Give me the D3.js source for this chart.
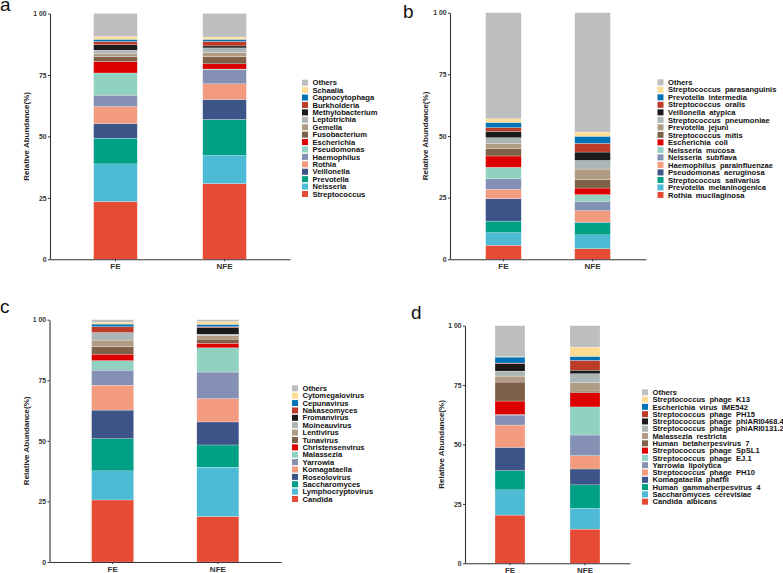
<!DOCTYPE html>
<html>
<head>
<meta charset="utf-8">
<script src="https://cdn.jsdelivr.net/npm/d3@7"></script>
<style>
  body { margin: 0; background: #fff; }
  svg text { font-family: "Liberation Sans", Arial, sans-serif; }
</style>
</head>
<body>
<div id="chart"></div>
<script>
// groups and y ticks shared by all four panels
const groups = ["FE", "NFE"];
const yTicks = [0, 25, 50, 75, 100];
const yTickLabels = ["0", "25", "50", "75", "1 00"];

// colours from the bottom of the stack up to "Others"
const colours = ["#E64B35", "#4DBBD5", "#00A087", "#3C5488", "#F39B7F", "#8491B4",
    "#91D1C2", "#DC0000", "#7E6148", "#B09C85", "#ADB6B6", "#1B1919",
    "#BC3C29", "#0072B5", "#FFDC91", "#BEBEBE"];

// panel a - bacteria genus
const catsA = ["Streptococcus", "Neisseria", "Prevotella", "Veillonella", "Rothia", "Haemophilus",
    "Pseudomonas", "Escherichia", "Fusobacterium", "Gemella", "Leptotrichia", "Methylobacterium",
    "Burkholderia", "Capnocytophaga", "Schaalia", "Others"];
const feA  = [23.5, 15.3, 10.5, 5.9, 6.9, 4.7, 9.0, 4.6, 2.1, 1.3, 1.3, 2.2, 1.3, 0.9, 1.1, 9.4];
const nfeA = [30.8, 11.4, 14.7, 8.1, 6.4, 5.7, 0.3, 2.1, 3.0, 1.6, 1.9, 0.8, 1.9, 0.8, 0.9, 9.6];

// panel b - bacteria species
const catsB = ["Rothia  mucilaginosa", "Prevotella  melaninogenica", "Streptococcus  salivarius",
    "Pseudomonas  aeruginosa", "Haemophilus  parainfluenzae", "Neisseria  subflava", "Neisseria  mucosa",
    "Escherichia  coli", "Streptococcus  mitis", "Prevotella  jejuni", "Streptococcus  pneumoniae",
    "Veillonella  atypica", "Streptococcus  oralis", "Prevotella  intermedia",
    "Streptococcus  parasanguinis", "Others"];
const feB  = [5.7, 5.1, 4.7, 9.1, 3.8, 4.3, 4.6, 4.6, 3.0, 2.0, 2.4, 2.6, 1.5, 2.1, 1.5, 43.0];
const nfeB = [4.3, 5.6, 5.0, 0.2, 4.6, 3.8, 2.7, 2.7, 3.5, 4.2, 3.5, 3.4, 3.5, 2.9, 1.7, 48.4];

// panel c - fungi / virus genus
const catsC = ["Candida", "Lymphocryptovirus", "Saccharomyces", "Roseolovirus", "Komagataella",
    "Yarrowia", "Malassezia", "Christensenvirus", "Tunavirus", "Lentivirus", "Moineauvirus",
    "Fromanvirus", "Nakaseomyces", "Cepunavirus", "Cytomegalovirus", "Others"];
const feC  = [25.6, 12.0, 13.3, 11.8, 10.3, 6.2, 3.9, 2.7, 3.1, 2.7, 3.0, 0.1, 2.4, 1.1, 0.7, 1.1];
const nfeC = [18.8, 20.3, 9.2, 9.5, 9.6, 11.0, 10.0, 1.9, 1.7, 1.4, 0.6, 2.7, 0.4, 1.0, 1.1, 0.8];

// panel d - fungi / virus species
const catsD = ["Candida  albicans", "Saccharomyces  cerevisiae", "Human  gammaherpesvirus  4",
    "Komagataella  phaffii", "Streptococcus  phage  PH10", "Yarrowia  lipolytica",
    "Streptococcus  phage  EJ.1", "Streptococcus  phage  SpSL1", "Human  betaherpesvirus  7",
    "Malassezia  restricta", "Streptococcus  phage  phiARI0131.2", "Streptococcus  phage  phiARI0468.4",
    "Streptococcus  phage  PH15", "Escherichia  virus  IME542", "Streptococcus  phage  K13", "Others"];
const feD  = [20.3, 10.6, 8.1, 9.8, 9.4, 4.2, 0.2, 5.7, 8.0, 2.5, 2.1, 3.1, 0.3, 2.5, 0.1, 13.1];
const nfeD = [14.4, 8.7, 9.9, 6.7, 5.6, 8.7, 11.8, 6.0, 0.7, 3.5, 3.8, 1.5, 4.1, 1.7, 3.9, 9.0];

const panels = [
    {letter: "a", cats: catsA, fe: feA, nfe: nfeA, left: 50, right: 290, top: 13.5, bottom: 259.3,
     lx: 0, ly: 11, titleX: 26, legX: 302, legY: 82.7, legDy: 7.42},
    {letter: "b", cats: catsB, fe: feB, nfe: nfeB, left: 450, right: 646, top: 12.7, bottom: 259.3,
     lx: 403, ly: 17.5, titleX: 425, legX: 657.5, legY: 82.3, legDy: 7.51},
    {letter: "c", cats: catsC, fe: feC, nfe: nfeC, left: 49.5, right: 281, top: 319.7, bottom: 562,
     lx: 0, ly: 313, titleX: 26, legX: 292, legY: 388.3, legDy: 7.38},
    {letter: "d", cats: catsD, fe: feD, nfe: nfeD, left: 465, right: 630, top: 325.7, bottom: 563.3,
     lx: 411, ly: 318.5, titleX: 441, legX: 642, legY: 392.3, legDy: 7.29}
];

const svg = d3.select("#chart")
    .append("svg")
    .attr("width", 783)
    .attr("height", 573);

panels.forEach(function(p) {
    const keys = p.cats;
    const rows = groups.map(function(g, gi) {
        const row = {group: g};
        const vals = gi === 0 ? p.fe : p.nfe;
        keys.forEach((k, i) => row[k] = vals[i]);
        return row;
    });

    const stackedData = d3.stack().keys(keys)(rows);

    const x = d3.scaleBand()
        .domain(groups)
        .range([p.left, p.right])
        .paddingInner(0.6)
        .paddingOuter(0.4);

    const y = d3.scaleLinear()
        .domain([0, 100])
        .range([p.bottom, p.top]);

    const color = d3.scaleOrdinal()
        .domain(keys)
        .range(colours);

    const g = svg.append("g");

    //stacked bars
    g.append("g")
        .selectAll("g")
        .data(stackedData)
        .join("g")
        .attr("fill", d => color(d.key))
        .selectAll("rect")
        .data(d => d)
        .join("rect")
        .attr("x", d => x(d.data.group))
        .attr("y", d => y(d[1]))
        .attr("width", x.bandwidth())
        .attr("height", d => y(d[0]) - y(d[1]))
        .attr("stroke", "#fff")
        .attr("stroke-width", 0.25);

    //axes
    const yAxis = g.append("g")
        .attr("transform", `translate(${p.left},0)`)
        .call(d3.axisLeft(y).tickValues(yTicks).tickSize(2).tickSizeOuter(0)
            .tickFormat((d, i) => yTickLabels[i]));

    const xAxis = g.append("g")
        .attr("transform", `translate(0,${p.bottom})`)
        .call(d3.axisBottom(x).tickSize(2).tickSizeOuter(0));

    [yAxis, xAxis].forEach(function(ax) {
        ax.select(".domain").attr("stroke", "#333").attr("stroke-width", 1.1);
        ax.selectAll(".tick line").attr("stroke", "#333");
        ax.selectAll("text")
            .attr("fill", "#333")
            .style("font-family", "'Liberation Sans', Arial, sans-serif")
            .style("font-weight", "bold");
    });
    yAxis.selectAll("text").style("font-size", "6.8px").attr("x", -3.5);
    xAxis.selectAll("text").style("font-size", "8px").attr("y", 4);

    //y axis label
    g.append("text")
        .attr("text-anchor", "middle")
        .attr("transform", `translate(${p.titleX},${(p.top + p.bottom) / 2}) rotate(-90)`)
        .attr("dy", "0.35em")
        .attr("font-size", "8")
        .attr("font-weight", "bold")
        .attr("fill", "#222")
        .text("Relative Abundance(%)");

    //panel letter
    g.append("text")
        .attr("x", p.lx)
        .attr("y", p.ly)
        .attr("font-size", "19")
        .attr("fill", "#111")
        .text(p.letter);

    //legend
    const size = 6;
    const legendKeys = keys.slice().reverse();
    g.selectAll("legrect")
        .data(legendKeys)
        .enter()
        .append("rect")
        .attr("x", p.legX)
        .attr("y", (d, i) => p.legY + i * p.legDy - size / 2)
        .attr("width", size)
        .attr("height", size)
        .style("fill", d => color(d));

    g.selectAll("legtext")
        .data(legendKeys)
        .enter()
        .append("text")
        .attr("x", p.legX + 10.5)
        .attr("y", (d, i) => p.legY + i * p.legDy)
        .attr("dy", "0.35em")
        .style("font-size", "7.6px")
        .style("font-weight", "bold")
        .style("white-space", "pre")
        .attr("fill", "#111")
        .text(d => d);
});
</script>
</body>
</html>
